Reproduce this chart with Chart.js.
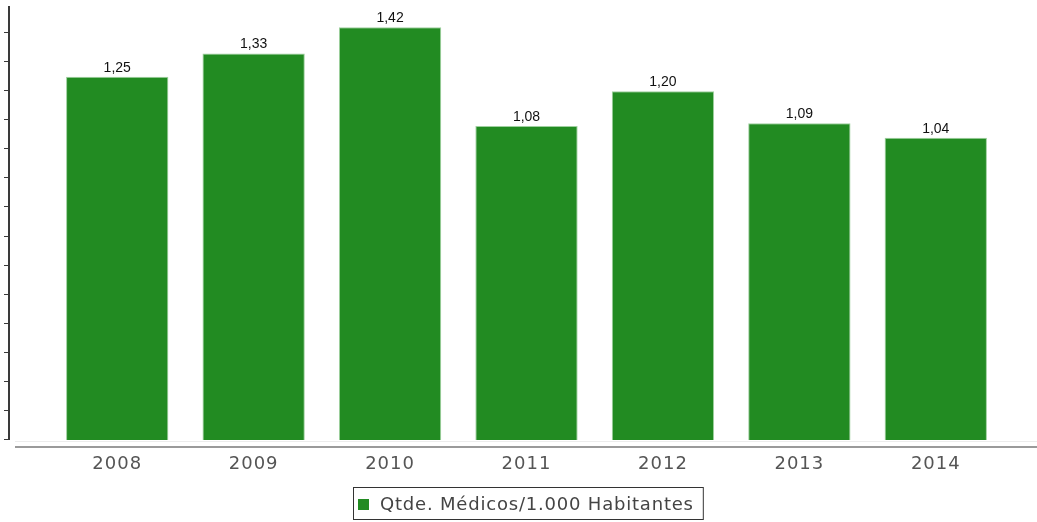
<!DOCTYPE html>
<html>
<head>
<meta charset="utf-8">
<script src="https://cdn.jsdelivr.net/npm/chart.js@4/dist/chart.umd.min.js"></script>
<style>
html,body{margin:0;padding:0;background:#fff;}
#wrap{width:1037px;height:522px;position:relative;}
</style>
</head>
<body>
<div id="wrap"><canvas id="c" width="1037" height="522"></canvas></div>
<script>
const categories = ['2008','2009','2010','2011','2012','2013','2014'];
const seriesLabel = 'Qtde. Médicos/1.000 Habitantes';
const values = [1.25, 1.33, 1.42, 1.08, 1.20, 1.09, 1.04];
const yMin = 0, yMax = 1.5, yStep = 0.1;

const fmt = v => v.toFixed(2).replace('.', ',');

const decor = {
  id: 'decor',
  beforeDraw(chart) {
    chart.ctx.letterSpacing = '1px';
  },
  afterDraw(chart) {
    const ctx = chart.ctx;
    const ca = chart.chartArea;
    const y = chart.scales.y;
    ctx.save();
    ctx.letterSpacing = '0px';
    // faint base line and gray x axis line
    ctx.strokeStyle = '#ececec';
    ctx.lineWidth = 1;
    ctx.beginPath(); ctx.moveTo(15, ca.bottom + 1.5); ctx.lineTo(chart.width, ca.bottom + 1.5); ctx.stroke();
    ctx.strokeStyle = '#9a9a9a';
    ctx.lineWidth = 2;
    ctx.beginPath(); ctx.moveTo(15, ca.bottom + 7); ctx.lineTo(chart.width, ca.bottom + 7); ctx.stroke();
    // y axis
    ctx.strokeStyle = '#3a3a3a';
    ctx.lineWidth = 2;
    ctx.beginPath(); ctx.moveTo(9, y.getPixelForValue(yMax) + 2); ctx.lineTo(9, y.getPixelForValue(yMin)); ctx.stroke();
    ctx.lineWidth = 1;
    for (let v = yMin; v <= yMax + 1e-9; v += yStep) {
      const py = Math.round(y.getPixelForValue(v)) - 0.5;
      if (v > yMax - 1e-9) continue;
      ctx.beginPath(); ctx.moveTo(4, py); ctx.lineTo(8, py); ctx.stroke();
    }
    // data labels
    const meta = chart.getDatasetMeta(0);
    ctx.fillStyle = '#111';
    ctx.font = '14px "Liberation Sans", Arial, sans-serif';
    ctx.textAlign = 'center';
    ctx.textBaseline = 'alphabetic';
    meta.data.forEach((bar, i) => {
      ctx.fillText(fmt(chart.data.datasets[0].data[i]), bar.x, bar.y - 5);
    });
    // legend
    ctx.font = '18px "DejaVu Sans", sans-serif';
    ctx.letterSpacing = '0.8px';
    const label = chart.data.datasets[0].label;
    const tw = ctx.measureText(label).width;
    const bw = 5 + 11 + 11 + tw + 9;
    const bx = Math.round(528 - bw / 2) + 0.5;
    const by = 487.5, bh = 32;
    ctx.strokeStyle = '#333';
    ctx.lineWidth = 1;
    ctx.strokeRect(bx, by, bw, bh);
    ctx.fillStyle = chart.data.datasets[0].backgroundColor;
    ctx.fillRect(bx + 4.5, 499, 11, 11);
    ctx.fillStyle = '#444';
    ctx.textAlign = 'left';
    ctx.textBaseline = 'middle';
    ctx.fillText(label, bx + 26.5, 505);
    ctx.restore();
  }
};

new Chart(document.getElementById('c'), {
  type: 'bar',
  data: {
    labels: categories,
    datasets: [{
      label: seriesLabel,
      data: values,
      backgroundColor: '#228b22',
      borderColor: '#9fd09f',
      borderWidth: 1,
      categoryPercentage: 1,
      barPercentage: 0.75
    }]
  },
  options: {
    responsive: false,
    animation: false,
    devicePixelRatio: 1,
    layout: { padding: { left: 49, right: 33, top: 4, bottom: 0 } },
    plugins: { legend: { display: false }, tooltip: { enabled: false } },
    scales: {
      x: {
        grid: { display: false, drawTicks: false },
        border: { display: false },
        ticks: { color: '#555', font: { family: '"DejaVu Sans", sans-serif', size: 18 }, padding: 14, maxRotation: 0 },
        afterFit(s) { s.height = 82; }
      },
      y: {
        display: false,
        min: yMin, max: yMax,
        ticks: { stepSize: yStep }
      }
    }
  },
  plugins: [decor]
});
</script>
</body>
</html>
